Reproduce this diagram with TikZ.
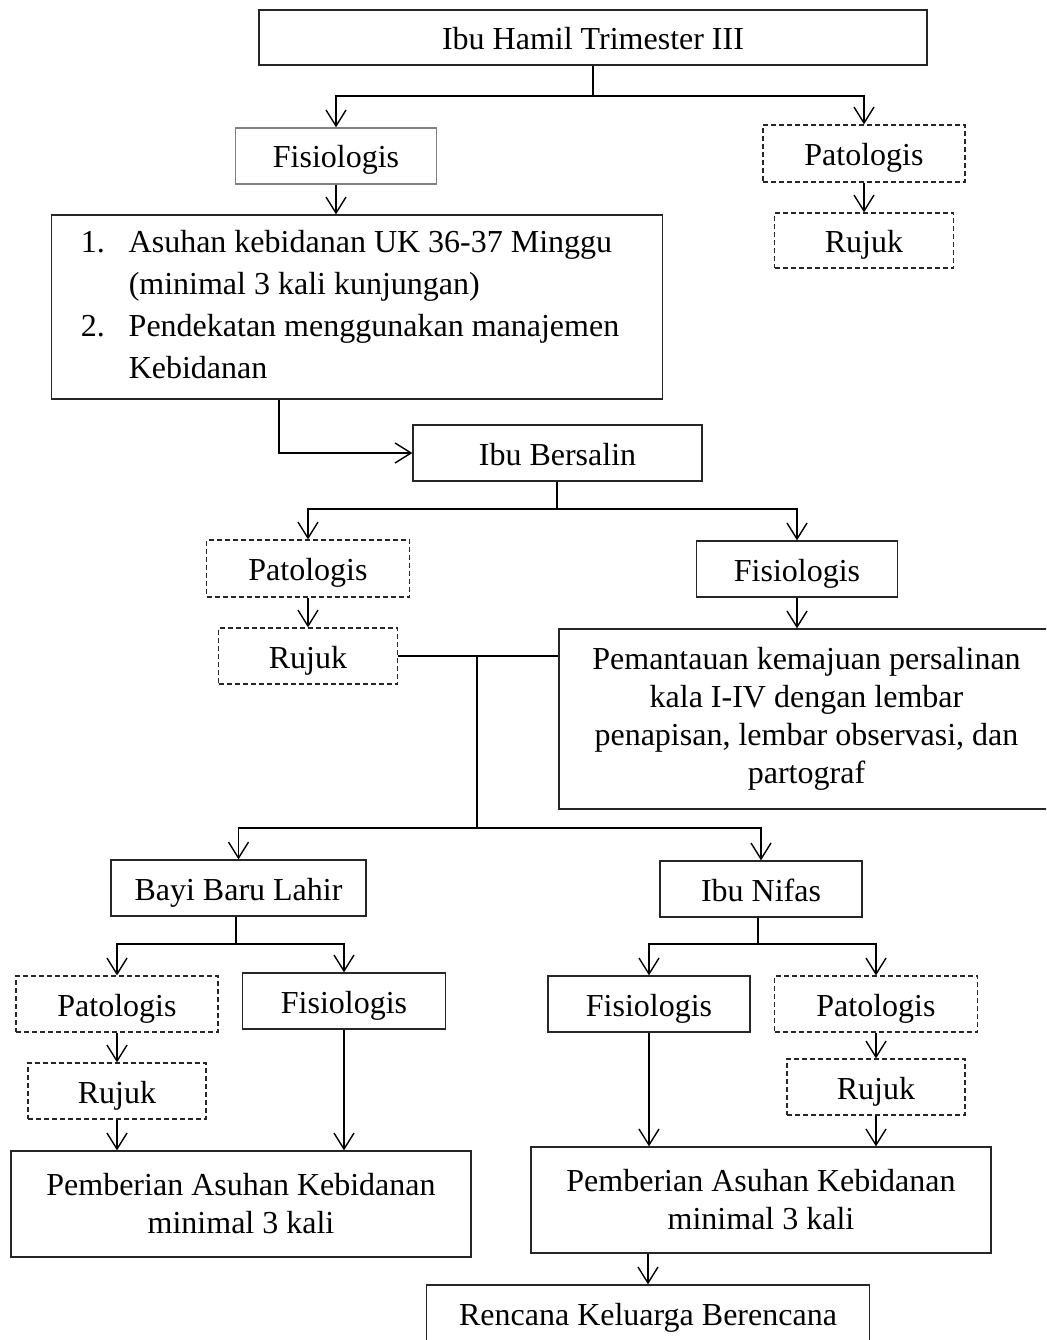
\documentclass[tikz,border=0pt]{standalone}
\usepackage{fontspec}
\setmainfont{Liberation Serif}
\usetikzlibrary{arrows.meta,calc}
\begin{document}
\begin{tikzpicture}[x=1pt,y=-1pt,
  box/.style={draw=black!85,line width=1.3pt,rectangle,inner sep=0pt,font=\fontsize{32}{38}\selectfont,align=center},
  one/.style={text height=24pt,text depth=0pt},
  gbox/.style={box,one,draw=black!50},
  dbox/.style={box,one,dash pattern=on 5pt off 3pt,line width=1.2pt},
  conn/.style={line width=1.7pt},
  arr/.style={conn,-{Straight Barb[length=16pt,width=20pt,line width=1.4pt]}}]
\useasboundingbox (0,0) rectangle (1046,1340);
\clip (0,0) rectangle (1046,1340);
\fill[white] (0,0) rectangle (1046,1340);
% nodes
\node[box,one,minimum width=668pt,minimum height=55pt] (top) at (593,37.5) {Ibu Hamil Trimester III};
\node[gbox,minimum width=201pt,minimum height=56pt] (fis1) at (336,156) {Fisiologis};
\node[dbox,minimum width=202pt,minimum height=57pt] (pat1) at (864,153.5) {Patologis};
\node[dbox,minimum width=179pt,minimum height=55pt] (ruj1) at (864,240.5) {Rujuk};
\node[box,minimum width=608pt,minimum height=184pt,font=\fontsize{32}{42.3}\selectfont] (list) at (357,307)
  {\hspace*{29pt}\raisebox{-3pt}{\begin{tabular}{@{}p{48pt}@{}l@{}}
  1. & Asuhan kebidanan UK 36-37 Minggu\\
     & (minimal 3 kali kunjungan)\\
  2. & Pendekatan menggunakan manajemen\\
     & Kebidanan
  \end{tabular}}\hspace*{43pt}};
\node[box,one,minimum width=289pt,minimum height=56pt] (bers) at (557.5,453) {Ibu Bersalin};
\node[dbox,minimum width=203pt,minimum height=57pt] (pat2) at (308,568.5) {Patologis};
\node[box,one,minimum width=201pt,minimum height=56pt] (fis2) at (797,569) {Fisiologis};
\node[dbox,minimum width=179pt,minimum height=56pt] (ruj2) at (308,656) {Rujuk};
\node[box,minimum width=495pt,minimum height=180pt] (pem) at (806.5,719)
  {Pemantauan kemajuan persalinan\\kala I-IV dengan lembar\\penapisan, lembar observasi, dan\\partograf};
\node[box,one,minimum width=255pt,minimum height=56pt] (bbl) at (238.5,888) {Bayi Baru Lahir};
\node[box,one,minimum width=202pt,minimum height=56pt] (nifas) at (761,889) {Ibu Nifas};
\node[dbox,minimum width=202pt,minimum height=56pt] (pat3) at (117,1004) {Patologis};
\node[box,one,minimum width=203pt,minimum height=56pt] (fis3) at (344,1001) {Fisiologis};
\node[dbox,minimum width=178pt,minimum height=56pt] (ruj3) at (117,1091) {Rujuk};
\node[box,minimum width=460pt,minimum height=106pt] (pb1) at (241,1204) {Pemberian Asuhan Kebidanan\\minimal 3 kali};
\node[box,one,minimum width=202pt,minimum height=56pt] (fis4) at (649,1004) {Fisiologis};
\node[dbox,minimum width=203pt,minimum height=56pt] (pat4) at (876,1004) {Patologis};
\node[dbox,minimum width=178pt,minimum height=56pt] (ruj4) at (876,1087) {Rujuk};
\node[box,minimum width=460pt,minimum height=106pt] (pb2) at (761,1200) {Pemberian Asuhan Kebidanan\\minimal 3 kali};
\node[box,one,minimum width=443pt,minimum height=56pt] (renc) at (648,1313) {Rencana Keluarga Berencana};
% junctions
\coordinate (j1) at (593,96);
\coordinate (lb) at (279,453);
\coordinate (j2) at (557,509);
\coordinate (j3) at (477,656);
\coordinate (j4) at (477,828);
\coordinate (j5) at (236,944);
\coordinate (j6) at (758,944);
% connectors
\draw[conn] (top.south -| j1) -- (j1);
\draw[arr] (j1) -| (fis1.north);
\draw[arr] (j1) -| (pat1.north);
\draw[arr] (fis1.south) -- (fis1.south |- list.north);
\draw[arr] (pat1.south) -- (pat1.south |- ruj1.north);
\draw[arr] (lb |- list.south) -- (lb) -- (bers.west);
\draw[conn] (bers.south -| j2) -- (j2);
\draw[arr] (j2) -| (pat2.north);
\draw[arr] (j2) -| (fis2.north);
\draw[arr] (pat2.south) -- (ruj2.north);
\draw[arr] (fis2.south) -- (fis2.south |- pem.north);
\draw[conn] (ruj2.east) -- (pem.west |- ruj2.east);
\draw[conn] (j3) -- (j4);
\draw[arr] (j4) -| (bbl.north);
\draw[arr] (j4) -| (nifas.north);
\draw[conn] (bbl.south -| j5) -- (j5);
\draw[arr] (j5) -| (pat3.north);
\draw[arr] (j5) -| (fis3.north);
\draw[arr] (pat3.south) -- (pat3.south |- ruj3.north);
\draw[arr] (ruj3.south) -- (ruj3.south |- pb1.north);
\draw[arr] (fis3.south) -- (fis3.south |- pb1.north);
\draw[conn] (nifas.south -| j6) -- (j6);
\draw[arr] (j6) -| (fis4.north);
\draw[arr] (j6) -| (pat4.north);
\draw[arr] (pat4.south) -- (pat4.south |- ruj4.north);
\draw[arr] (ruj4.south) -- (ruj4.south |- pb2.north);
\draw[arr] (fis4.south) -- (fis4.south |- pb2.north);
\draw[arr] (pb2.south -| renc.north) -- (renc.north);
\end{tikzpicture}
\end{document}
